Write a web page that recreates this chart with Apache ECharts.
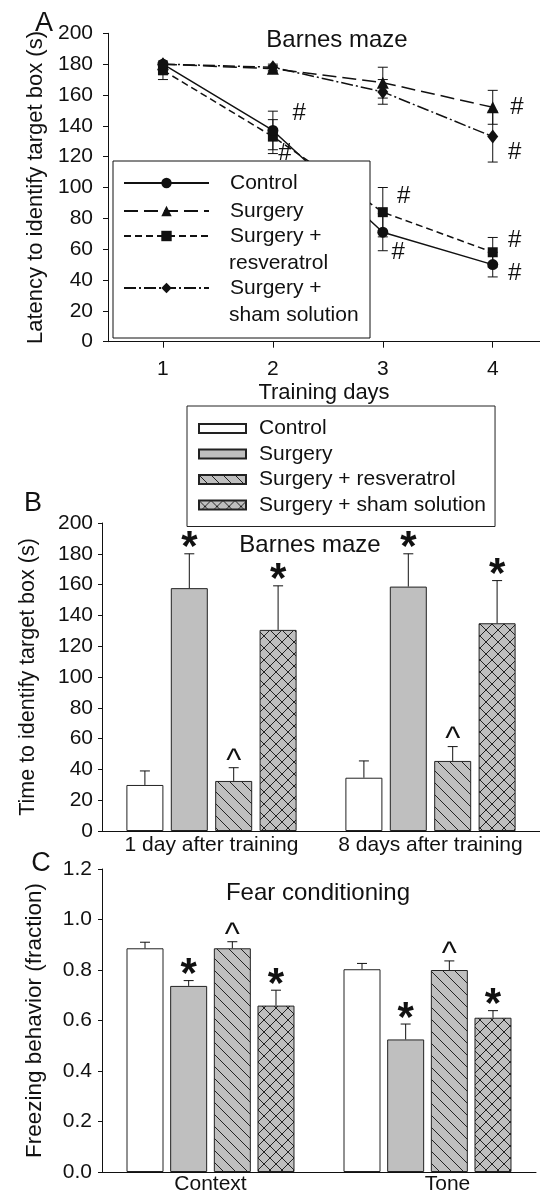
<!DOCTYPE html>
<html>
<head>
<meta charset="utf-8">
<script src="https://cdn.jsdelivr.net/npm/echarts@6/dist/echarts.min.js"></script>
<style>
  html, body { margin: 0; padding: 0; background: #fff; }
  #chart { width: 540px; height: 1195px; }
</style>
</head>
<body>
<div id="chart"></div>
<script>
// ---- panel A: latency across training days
var days = [1, 2, 3, 4];
var latControl = [180, 137, 71, 50];
var latSurgery = [180, 177, 168, 152];
var latResv    = [176, 133, 84, 58];
var latSham    = [180, 178, 162, 133];
var errControl = [1, 12.5, 12, 8];
var errSurgery = [1, 2, 10, 11];
var errResv    = [6, 11, 16, 9.6];
var errSham    = [1, 2, 8, 16.5];
// '#' marks, placed in data units (day, seconds)
var hashA = [[2.24, 148], [2.11, 122], [3.19, 94], [3.14, 58], [4.2, 66], [4.2, 44], [4.22, 152], [4.2, 123]];

// ---- panel B: time to target box
var groupsB = ['1 day after training', '8 days after training'];
var timeControl = [29.9, 34.6];
var timeSurgery = [157.7, 158.7];
var timeResv    = [32.5, 45.5];
var timeSham    = [130.6, 134.9];
var semB = [[9.1, 10.9], [22.3, 21.3], [8.6, 9.3], [28.6, 27.7]];
var marksB = [['', ''], ['*', '*'], ['^', '^'], ['*', '*']];

// ---- panel C: fear conditioning
var groupsC = ['Context', 'Tone'];
var frzControl = [0.886, 0.803];
var frzSurgery = [0.737, 0.525];
var frzResv    = [0.886, 0.800];
var frzSham    = [0.659, 0.611];
var semC = [[0.024, 0.023], [0.021, 0.061], [0.026, 0.036], [0.061, 0.028]];
var marksC = [['', ''], ['*', '*'], ['^', '^'], ['*', '*']];

var groupNames = ['Control', 'Surgery', 'Surgery + resveratrol', 'Surgery + sham solution'];
var legendA1 = ['Control', 'Surgery', 'Surgery +', 'Surgery +'];
var legendA2 = ['', '', 'resveratrol', 'sham solution'];
var ticksA = [1, 2, 3, 4];

var FONT = '"Liberation Sans", Arial, sans-serif';
var INK = '#111';
var GRAY = '#bfbfbf';

function pattern(cross) {
    var s = 12, c = document.createElement('canvas');
    c.width = s; c.height = s;
    var g = c.getContext('2d');
    g.fillStyle = GRAY; g.fillRect(0, 0, s, s);
    g.strokeStyle = '#222'; g.lineWidth = 1;
    g.beginPath();
    for (var k = -1; k <= 1; k++) {
        g.moveTo(k * s, 0); g.lineTo(k * s + s, s);
        if (cross) { g.moveTo(k * s + s, 0); g.lineTo(k * s, s); }
    }
    g.stroke();
    return c;
}
var fills = [
    '#ffffff',
    GRAY,
    { image: pattern(false), repeat: 'repeat' },
    { image: pattern(true), repeat: 'repeat' }
];

var el = document.getElementById('chart');
var chart = echarts.init(el, null, { renderer: 'canvas' });

var latAll = [latControl, latSurgery, latResv, latSham];
var errAll = [errControl, errSurgery, errResv, errSham];
var symbols = ['circle', 'triangle', 'rect', 'diamond'];
var symSizes = [11, 12, 10, [11, 14]];
var dashes = ['solid', [14, 6], [7, 4], [12, 3, 2, 3]];
var lineNames = groupNames.map(function (n) { return n + ' (A)'; });

var series = [];

// error bars for A (under the legend box)
var errDataA = [];
latAll.forEach(function (vals, s) {
    vals.forEach(function (v, i) { errDataA.push([days[i], v, errAll[s][i]]); });
});
series.push({
    type: 'custom', name: 'errA', xAxisIndex: 0, yAxisIndex: 0, z: 2,
    encode: { x: 0, y: 1 },
    data: errDataA,
    renderItem: function (params, api) {
        var x = api.value(0), v = api.value(1), e = api.value(2);
        var lo = api.coord([x, v - e]), hi = api.coord([x, v + e]);
        var st = { stroke: INK, lineWidth: 1 };
        return { type: 'group', children: [
            { type: 'line', shape: { x1: lo[0], y1: lo[1], x2: hi[0], y2: hi[1] }, style: st },
            { type: 'line', shape: { x1: lo[0] - 5, y1: lo[1], x2: lo[0] + 5, y2: lo[1] }, style: st },
            { type: 'line', shape: { x1: hi[0] - 5, y1: hi[1], x2: hi[0] + 5, y2: hi[1] }, style: st }
        ] };
    }
});

[2, 3, 1, 0].forEach(function (s) {
    series.push({
        type: 'line', name: lineNames[s], xAxisIndex: 0, yAxisIndex: 0, z: 2,
        data: days.map(function (d, i) { return [d, latAll[s][i]]; }),
        symbol: symbols[s], symbolSize: symSizes[s],
        itemStyle: { color: INK },
        lineStyle: { color: INK, width: 1.5, type: dashes[s] }
    });
});

series.push({
    type: 'custom', name: 'hashA', xAxisIndex: 0, yAxisIndex: 0, z: 2,
    encode: { x: 0, y: 1 },
    data: hashA,
    renderItem: function (params, api) {
        var p = api.coord([api.value(0), api.value(1)]);
        return { type: 'text', x: p[0], y: p[1],
            style: { text: '#', font: '24px ' + FONT, fill: INK, align: 'center', verticalAlign: 'middle' } };
    }
});

// bars for B and C
function addBars(axis, valsList, barWidth, barGap) {
    valsList.forEach(function (vals, k) {
        series.push({
            type: 'bar', name: groupNames[k], xAxisIndex: axis, yAxisIndex: axis,
            data: vals, barWidth: barWidth, barGap: barGap,
            itemStyle: { color: fills[k], borderColor: '#222', borderWidth: 1 }
        });
    });
}
function addErr(axis, valsList, sem, marks, step) {
    var d = [];
    valsList.forEach(function (vals, k) {
        vals.forEach(function (v, c) { d.push([c, v, sem[k][c], k]); });
    });
    series.push({
        type: 'custom', name: 'err' + axis, xAxisIndex: axis, yAxisIndex: axis, z: 3,
        encode: { x: 0, y: 1 },
        data: d,
        renderItem: function (params, api) {
            var c = api.value(0), v = api.value(1), e = api.value(2), k = api.value(3);
            var base = api.coord([c, v]), cap = api.coord([c, v + e]);
            var x = base[0] + (k - 1.5) * step;
            var st = { stroke: INK, lineWidth: 1 };
            var kids = [
                { type: 'line', shape: { x1: x, y1: base[1], x2: x, y2: cap[1] }, style: st },
                { type: 'line', shape: { x1: x - 5, y1: cap[1], x2: x + 5, y2: cap[1] }, style: st }
            ];
            var m = marks[k][c];
            if (m === '*') {
                kids.push({ type: 'text', x: x, y: cap[1] - 5,
                    style: { text: '*', font: 'bold 42px ' + FONT, fill: INK, align: 'center', verticalAlign: 'middle' } });
            } else if (m === '^') {
                kids.push({ type: 'text', x: x, y: cap[1] - 7,
                    style: { text: '^', font: '32px ' + FONT, fill: INK, align: 'center', verticalAlign: 'middle' } });
            }
            return { type: 'group', children: kids };
        }
    });
}
addBars(1, [timeControl, timeSurgery, timeResv, timeSham], 37, '20%');
addErr(1, [timeControl, timeSurgery, timeResv, timeSham], semB, marksB, 37 * 1.2);
addBars(2, [frzControl, frzSurgery, frzResv, frzSham], 37, '18%');
addErr(2, [frzControl, frzSurgery, frzResv, frzSham], semC, marksC, 37 * 1.18);

// legends for A, one per row so the spacing follows the two-line labels
var rowsA = [183, 211, 236, 288];
var legends = lineNames.map(function (n, i) {
    return {
        data: [n], left: 123, top: rowsA[i] - 12, orient: 'vertical', padding: 0,
        itemWidth: 85, itemHeight: 13, selectedMode: false,
        formatter: function () { return legendA1[i]; },
        textStyle: { fontSize: 21, lineHeight: 24, color: INK, fontFamily: FONT, padding: [0, 0, 0, 16] }
    };
});
legends.push({
    data: groupNames, left: 187, top: 406, orient: 'vertical',
    padding: [12, 9, 11, 11], itemGap: 4.5, itemWidth: 47, itemHeight: 9,
    icon: 'rect', selectedMode: false,
    borderColor: '#222', borderWidth: 1, backgroundColor: '#fff',
    textStyle: { fontSize: 21, lineHeight: 21, color: INK, fontFamily: FONT, padding: [0, 0, 0, 8] }
});

function txt(text, x, y, size, align) {
    return { type: 'text', x: x, y: y, z: 5,
        style: { text: text, font: size + 'px ' + FONT, fill: INK, align: align || 'center', verticalAlign: 'middle' } };
}

var axisLine = { show: true, lineStyle: { color: INK, width: 1 } };
var labelStyle = { color: INK, fontSize: 21, fontFamily: FONT };
function nameStyle(size) { return { color: INK, fontSize: size, fontFamily: FONT }; }

chart.setOption({
    animation: false,
    backgroundColor: '#fff',
    textStyle: { fontFamily: FONT, color: INK },
    grid: [
        { left: 108, top: 33.3, width: 433, height: 308.4 },
        { left: 102, top: 523, width: 438, height: 308 },
        { left: 102, top: 869, width: 434, height: 303.5 }
    ],
    xAxis: [
        { gridIndex: 0, type: 'value', min: 0.5, max: 4.43,
          axisLine: axisLine, splitLine: { show: false },
          axisTick: { show: true, customValues: ticksA, length: 6, lineStyle: { color: INK } },
          axisLabel: Object.assign({ customValues: ticksA, margin: 17 }, labelStyle),
          name: 'Training days', nameLocation: 'middle', nameGap: 40,
          nameTextStyle: nameStyle(22) },
        { gridIndex: 1, type: 'category', data: groupsB,
          axisLine: axisLine, axisTick: { show: false },
          axisLabel: Object.assign({ margin: 4, interval: 0 }, labelStyle) },
        { gridIndex: 2, type: 'category', data: groupsC,
          axisLine: axisLine, axisTick: { show: false },
          axisLabel: Object.assign({ margin: 2, interval: 0,
              formatter: function (v) { return v === 'Tone' ? '{t|Tone}' : v; },
              rich: { t: { fontSize: 21, color: INK, fontFamily: FONT, padding: [0, 0, 0, 40] } } }, labelStyle) }
    ],
    yAxis: [
        { gridIndex: 0, type: 'value', min: 0, max: 200, interval: 20,
          axisLine: axisLine, splitLine: { show: false },
          axisTick: { show: true, length: 5, lineStyle: { color: INK } },
          axisLabel: Object.assign({ margin: 15 }, labelStyle),
          name: 'Latency to identify target box (s)', nameLocation: 'middle', nameGap: 60,
          nameTextStyle: nameStyle(22) },
        { gridIndex: 1, type: 'value', min: 0, max: 200, interval: 20,
          axisLine: axisLine, splitLine: { show: false },
          axisTick: { show: true, length: 4, lineStyle: { color: INK } },
          axisLabel: Object.assign({ margin: 9 }, labelStyle),
          name: 'Time to identify target box (s)', nameLocation: 'middle', nameGap: 63,
          nameTextStyle: nameStyle(21.5) },
        { gridIndex: 2, type: 'value', min: 0, max: 1.2, interval: 0.2,
          axisLine: axisLine, splitLine: { show: false },
          axisTick: { show: true, length: 4, lineStyle: { color: INK } },
          axisLabel: Object.assign({ margin: 10, formatter: function (v) { return v.toFixed(1); } }, labelStyle),
          name: 'Freezing behavior (fraction)', nameLocation: 'middle', nameGap: 56,
          nameTextStyle: nameStyle(22.5) }
    ],
    legend: legends,
    graphic: [
        { type: 'rect', z: 3, shape: { x: 113, y: 161, width: 257, height: 177 },
          style: { fill: '#fff', stroke: INK, lineWidth: 1 } },
        txt(legendA2[2], 229, 263, 21, 'left'),
        txt(legendA2[3], 229, 315, 21, 'left'),
        txt('A', 44, 24, 27),
        txt('Barnes maze', 337, 40, 24),
        txt('B', 33, 504, 27),
        txt('Barnes maze', 310, 545, 24),
        txt('C', 41, 864, 27),
        txt('Fear conditioning', 318, 893, 24)
    ],
    series: series
});
</script>
</body>
</html>
